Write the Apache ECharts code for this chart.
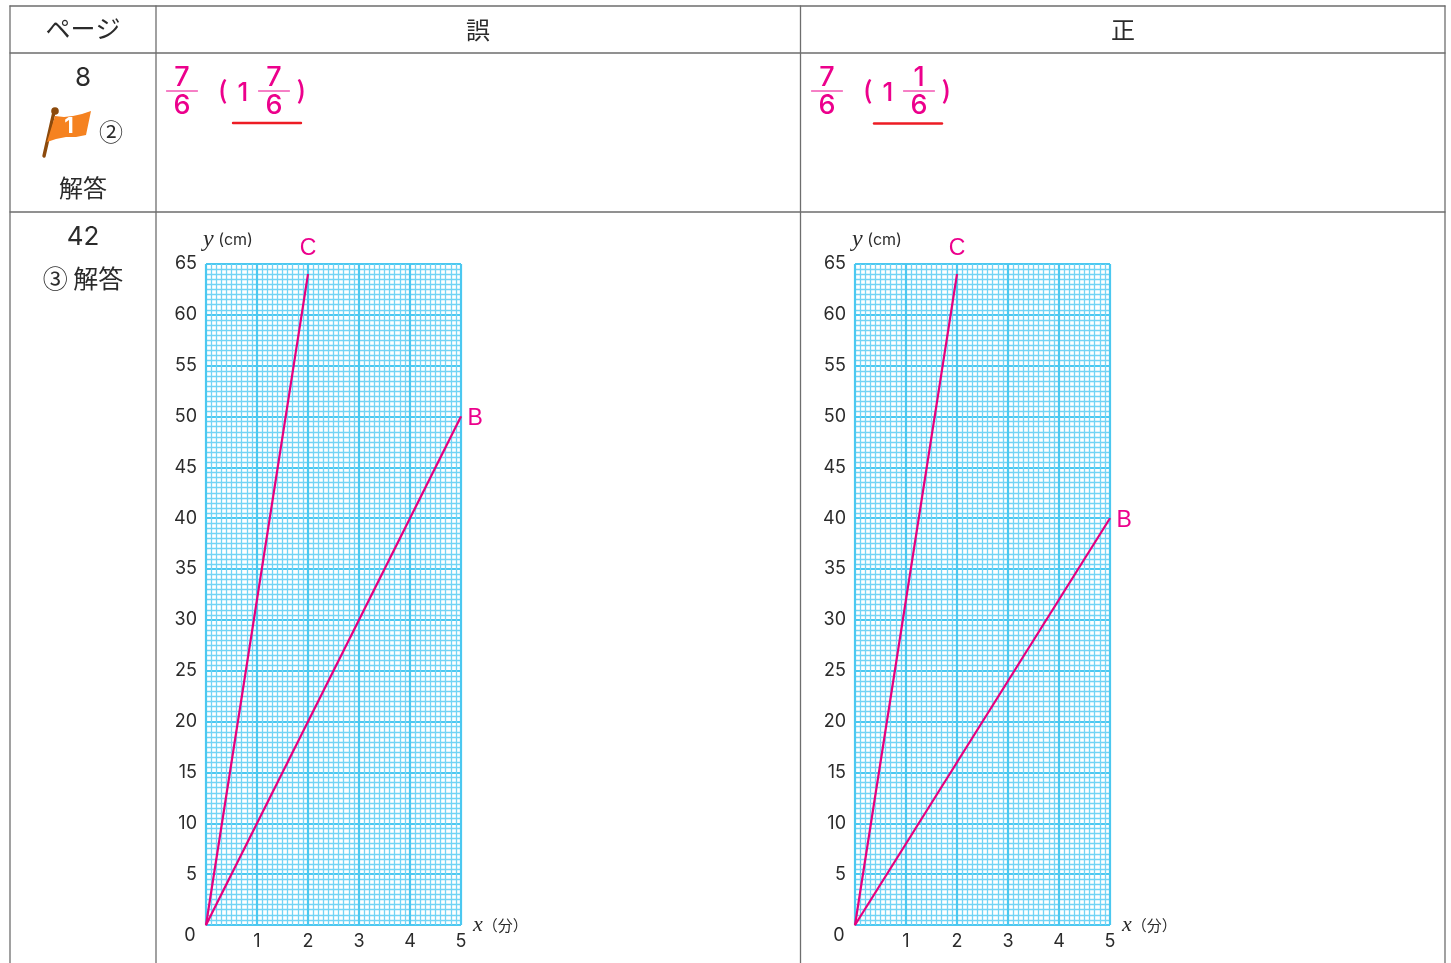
<!DOCTYPE html>
<html>
<head>
<meta charset="utf-8">
<style>html,body{margin:0;padding:0;background:#fff}#main{width:1451px;height:963px}</style>
<script src="https://cdn.jsdelivr.net/npm/echarts@6/dist/echarts.min.js"></script>
</head>
<body>
<div id="main"></div>
<script>
var xLabels = ['', '1', '2', '3', '4', '5'];
var yLabels = ['', '5', '10', '15', '20', '25', '30', '35', '40', '45', '50', '55', '60', '65'];
var lineC = [[0, 0], [2, 64]];
var wrongB = [[0, 0], [5, 50]];
var rightB = [[0, 0], [5, 40]];
var headers = ['ページ', '誤', '正'];

var JP = 'Noto Sans CJK JP';
var NUM = 'Inter';
var PINK = '#e6007e';
var FRAC = '#ec008c';
var INK = '#2b2b2b';
var BORDER = '#6e6e6e';

function txt(x, y, s, size, color, family, weight) {
	return {
		type: 'text', x: x, y: y, z: 5,
		style: {
			text: s, fontSize: size, fill: color || INK,
			fontFamily: family || JP, fontWeight: weight || 'normal',
			align: 'center', verticalAlign: 'middle'
		}
	};
}
function rule(x1, y1, x2, y2, color, w) {
	return {
		type: 'line', z: 4,
		shape: { x1: x1, y1: y1, x2: x2, y2: y2 },
		style: { stroke: color || BORDER, lineWidth: w || 1.3, lineCap: 'round' }
	};
}
// fraction column, centre x
function frac(x, top, bottom) {
	return [
		txt(x, 78, top, 27, FRAC, NUM, 500),
		rule(x - 15.5, 91, x + 15.5, 91, FRAC, 1),
		txt(x, 106, bottom, 27, FRAC, NUM, 500)
	];
}
function answer(dx, whole) {
	return [].concat(
		frac(182 + dx, '7', '6'),
		[txt(223 + dx, 90, '(', 24, FRAC, JP, 700)],
		[txt(243 + dx, 93, '1', 26, FRAC, NUM, 500)],
		frac(274 + dx, whole, '6'),
		[txt(301 + dx, 90, ')', 24, FRAC, JP, 700)]
	);
}

var table = [
	rule(10, 6, 1445, 6), rule(10, 53, 1445, 53), rule(10, 212, 1445, 212),
	rule(10, 6, 10, 963), rule(156, 6, 156, 963), rule(800.5, 6, 800.5, 963), rule(1445, 6, 1445, 963),
	txt(83, 28, headers[0], 25), txt(478, 30, headers[1], 24), txt(1123, 30, headers[2], 24),
	txt(83, 78, '8', 26, INK, NUM), txt(83, 188, '解答', 24),
	txt(83, 237, '42', 26, INK, NUM), txt(83, 278, '③ 解答', 25),
	txt(111, 132, '②', 24),
	{ type: 'polygon', z: 5, shape: { points: [[55, 116], [64, 117], [73, 116], [82, 114], [91, 111], [86, 135], [76, 137], [66, 137], [56, 139], [47, 142]] }, style: { fill: '#f58220' } },
	rule(54, 112, 44, 156, '#8c4a0c', 3.4),
	{ type: 'circle', z: 5, shape: { cx: 55, cy: 111, r: 3.8 }, style: { fill: '#8c4a0c' } },
	txt(69, 126, '1', 22, '#fff', NUM, 'bold'),
	rule(233, 123, 301, 123, '#ed1c24', 2.4),
	rule(874, 123.5, 942, 123.5, '#ed1c24', 2.4),
	txt(190, 936, '0', 18, INK, NUM), txt(839, 936, '0', 18, INK, NUM)
].concat(answer(0, '7'), answer(645, '1'));

function makeX(i) {
	return {
		type: 'value', gridIndex: i, min: 0, max: 5, interval: 1,
		name: '{v|x}{u|（分）}', nameLocation: 'end', nameGap: 12,
		nameTextStyle: { rich: {
			v: { fontFamily: 'Liberation Serif', fontStyle: 'italic', fontSize: 22, color: INK },
			u: { fontFamily: JP, fontSize: 15, color: INK }
		} },
		axisLine: { show: false }, axisTick: { show: false },
		axisLabel: {
			margin: 8, fontFamily: NUM, fontSize: 18, color: INK,
			formatter: function (v) { return xLabels[v]; }
		},
		splitLine: { show: true, lineStyle: { color: '#4cc8f0', width: 2.2 } },
		minorTick: { show: false, splitNumber: 10 },
		minorSplitLine: { show: true, lineStyle: { color: '#72d4f5', width: 1.3 } }
	};
}
function makeY(i) {
	return {
		type: 'value', gridIndex: i, min: 0, max: 65, interval: 5,
		name: '{v|y}{u| (cm)}', nameLocation: 'end', nameGap: 12,
		nameTextStyle: { align: 'center', padding: [0, 0, 0, 44], rich: {
			v: { fontFamily: 'Liberation Serif', fontStyle: 'italic', fontSize: 24, color: INK },
			u: { fontFamily: NUM, fontSize: 16, color: INK }
		} },
		axisLine: { show: false }, axisTick: { show: false },
		axisLabel: {
			margin: 9, padding: [7, 0, 0, 0], fontFamily: NUM, fontSize: 18, color: INK,
			formatter: function (v) { return yLabels[v / 5]; }
		},
		splitLine: { show: true, lineStyle: { color: '#4cc8f0', width: 2.2 } },
		minorTick: { show: false, splitNumber: 10 },
		minorSplitLine: { show: true, lineStyle: { color: '#72d4f5', width: 1.3 } }
	};
}
// only the end point of the line carries its letter
function makeLine(i, name, data, pos, dist) {
	var pts = [];
	for (var k = 0; k < data.length; k++) {
		pts[k] = k < data.length - 1 ? data[k] : {
			value: data[k],
			label: {
				show: true, formatter: name, position: pos, distance: dist,
				offset: pos == 'right' ? [0, 2] : [0, 0],
				color: '#ec008c', fontSize: 23, fontFamily: 'Liberation Sans'
			}
		};
	}
	return {
		type: 'line', name: name, xAxisIndex: i, yAxisIndex: i, data: pts,
		symbol: 'circle', symbolSize: 1, showSymbol: true, silent: true, z: 3, clip: false,
		itemStyle: { color: PINK },
		lineStyle: { color: PINK, width: 2.2 }
	};
}

var myChart = echarts.init(document.getElementById('main'));
var option = {
	animation: false,
	backgroundColor: '#fff',
	grid: [
		{ left: 206, top: 264, width: 255, height: 661 },
		{ left: 855, top: 264, width: 255, height: 661 }
	],
	xAxis: [makeX(0), makeX(1)],
	yAxis: [makeY(0), makeY(1)],
	series: [
		makeLine(0, 'C', lineC, 'top', 14),
		makeLine(0, 'B', wrongB, 'right', 6),
		makeLine(1, 'C', lineC, 'top', 14),
		makeLine(1, 'B', rightB, 'right', 6)
	],
	graphic: table
};
myChart.setOption(option, true);
</script>
</body>
</html>
